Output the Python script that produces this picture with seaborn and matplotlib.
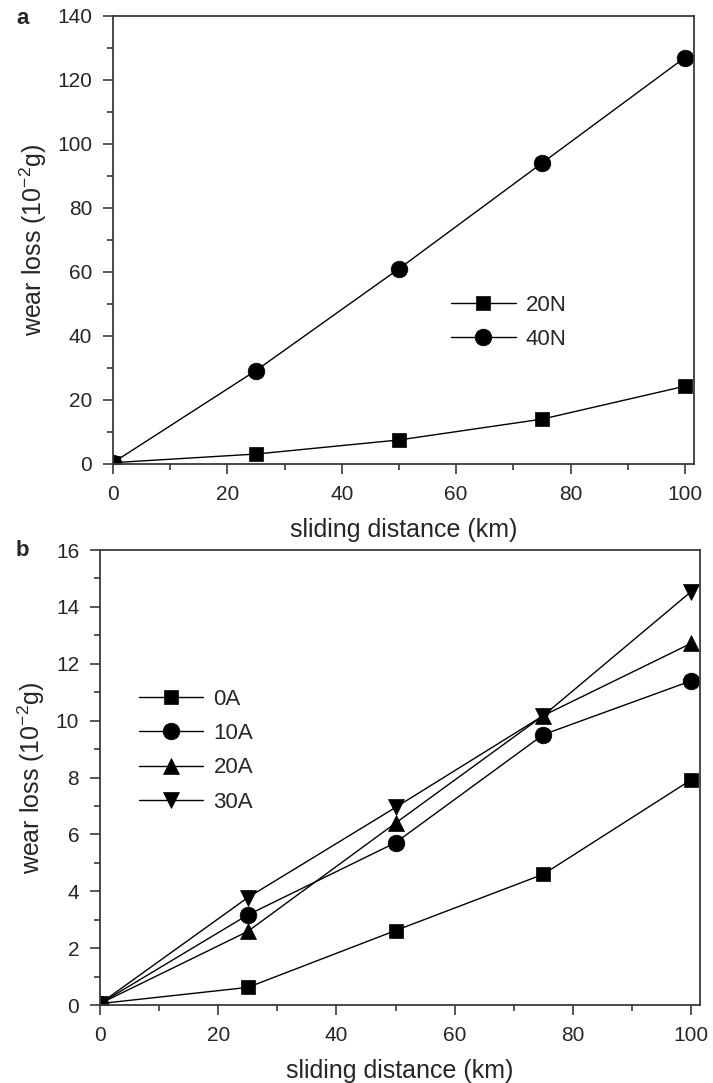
import matplotlib
matplotlib.use("Agg")
import matplotlib.pyplot as plt
from matplotlib.ticker import MultipleLocator
import seaborn as sns
import pandas as pd

# sliding distance (km)
distance = [0, 25, 50, 75, 100]

# panel a: wear loss (10^-2 g) under two loads
load_labels = ["20N", "40N"]
loss_20N = [0.4, 3.1, 7.5, 14.0, 24.3]
loss_40N = [0.4, 29.2, 61.0, 94.0, 127.0]

# panel b: wear loss (10^-2 g) under four currents
current_labels = ["0A", "10A", "20A", "30A"]
loss_0A = [0.05, 0.62, 2.62, 4.60, 7.92]
loss_10A = [0.05, 3.17, 5.71, 9.51, 11.40]
loss_20A = [0.05, 2.59, 6.40, 10.18, 12.72]
loss_30A = [0.05, 3.78, 6.95, 10.18, 14.54]

sns.set_style("ticks")
plt.rcParams["font.family"] = ["Liberation Sans", "DejaVu Sans"]
plt.rcParams["mathtext.fontset"] = "custom"
plt.rcParams["mathtext.rm"] = "Liberation Sans"
plt.rcParams["mathtext.it"] = "Liberation Sans"

fig = plt.figure(figsize=(7.13, 10.83), dpi=100)
ax_a = fig.add_axes([0.1585, 0.5716, 0.815, 0.4137])
ax_b = fig.add_axes([0.1403, 0.0720, 0.8415, 0.4201])

spine_color = "#3a3a3a"
tick_fs = 15
label_fs = 18
legend_fs = 16


def draw(ax, series, labels, markers, sizes):
    for vals, lab, mk, ms in zip(series, labels, markers, sizes):
        df = pd.DataFrame({"distance": distance, "loss": vals})
        sns.lineplot(data=df, x="distance", y="loss", ax=ax, color="black",
                     linewidth=1.0, marker=mk, markersize=ms,
                     markeredgecolor="black", markerfacecolor="black",
                     markeredgewidth=0.5, label=lab)


def style(ax, ymax, ymajor, yminor, xmax):
    ax.set_xlim(0, xmax)
    ax.set_ylim(0, ymax)
    ax.xaxis.set_major_locator(MultipleLocator(20))
    ax.xaxis.set_minor_locator(MultipleLocator(10))
    ax.yaxis.set_major_locator(MultipleLocator(ymajor))
    ax.yaxis.set_minor_locator(MultipleLocator(yminor))
    ax.tick_params(which="major", direction="out", length=7, width=1.2,
                   color=spine_color, labelsize=tick_fs, pad=8,
                   top=False, right=False)
    ax.tick_params(which="minor", direction="out", length=4, width=1.2,
                   color=spine_color, top=False, right=False)
    for sp in ax.spines.values():
        sp.set_visible(True)
        sp.set_color(spine_color)
        sp.set_linewidth(1.3)
    ax.set_xlabel("sliding distance (km)", fontsize=label_fs, labelpad=10)
    ax.set_ylabel("wear loss (10$^{-2}$g)", fontsize=label_fs, labelpad=6)


legend_kw = dict(loc="upper left", frameon=False, fontsize=legend_fs,
                 handlelength=2.9, handletextpad=0.45, labelspacing=0.6,
                 borderpad=0, borderaxespad=0)

# panel a
draw(ax_a, [loss_20N, loss_40N], load_labels, ["s", "o"], [10, 12])
style(ax_a, 140, 20, 10, 101.6)
ax_a.legend(bbox_to_anchor=(0.582, 0.378), **legend_kw)
fig.text(0.032, 0.983, "a", fontsize=16, fontweight="bold", ha="center", va="center")

# panel b
draw(ax_b, [loss_0A, loss_10A, loss_20A, loss_30A], current_labels,
     ["s", "o", "^", "v"], [10, 12, 12, 12])
style(ax_b, 16, 2, 1, 101.5)
ax_b.legend(bbox_to_anchor=(0.065, 0.695), **legend_kw)
fig.text(0.031, 0.492, "b", fontsize=16, fontweight="bold", ha="center", va="center")

fig.savefig("out.png", dpi=100)
